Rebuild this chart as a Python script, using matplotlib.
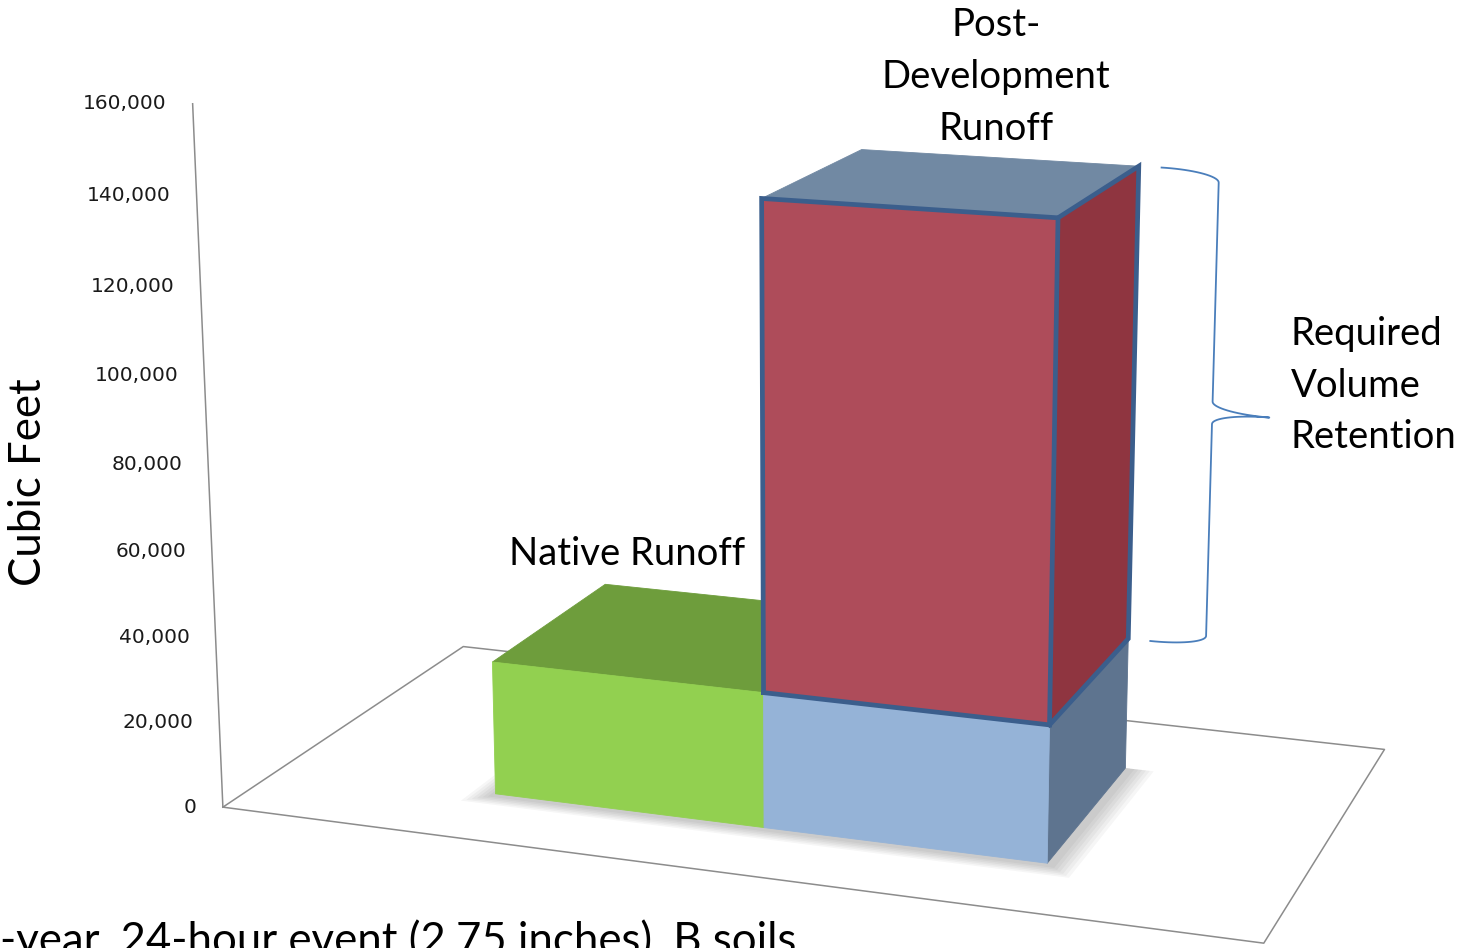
import numpy as np
import matplotlib
matplotlib.use("Agg")
import matplotlib.pyplot as plt
from matplotlib.transforms import offset_copy
from mpl_toolkits.mplot3d import proj3d
from mpl_toolkits.mplot3d.art3d import Poly3DCollection

plt.rcParams["font.family"] = ["Lato", "DejaVu Sans"]

# Stacked runoff columns, cubic feet
categories = ["Native Runoff", "Post-Development Runoff"]
base_volume = [31500, 31500]       # runoff leaving the native site
retention_volume = [0, 110300]     # extra runoff that has to be retained
z_ticks = [0, 20000, 40000, 60000, 80000, 100000, 120000, 140000, 160000]
caption = "-year, 24-hour event (2.75 inches), B soils"

# face colours (front, side, top)
base_colors = [("#92d050", "#5e9b2e", "#6e9d3c"),
               ("#95b3d7", "#5e748f", "#7189a3")]
retention_colors = ("#ae4c5a", "#8f3540", "#7189a3")
outline_color = "#3b5e8c"
floor_color = "#8c8c8c"
brace_color = "#4a7ebb"

# box geometry in bar-width units
BAR_W = 1.0
SIDE_GAP = 0.83
FRONT_GAP = 0.44
BAR_D = 1.0
BACK_GAP = 0.51
Z_MAX = 160000
Z_SPAN = 2.448

floor_x = 2 * SIDE_GAP + len(categories) * BAR_W
floor_y = FRONT_GAP + BAR_D + BACK_GAP
y_front = FRONT_GAP
y_back = FRONT_GAP + BAR_D

W, H = 1465, 948
fig = plt.figure(figsize=(W / 100, H / 100), dpi=100)
fig.patch.set_facecolor("white")

# square 3d axes; the projected box centre sits at (cx, cy) pixels
side = 1355.0
cx, cy = 817, 442
k = 0.95 / 1.85
ax = fig.add_axes([(cx - k * side) / W, (H - cy - k * side) / H, side / W, side / H],
                  projection="3d")
ax.set_proj_type("persp", focal_length=0.494)
ax.view_init(elev=14.31, azim=-70.34, roll=0)
ax.set_box_aspect((floor_x, floor_y, Z_SPAN))
ax.set_xlim(0, floor_x)
ax.set_ylim(0, floor_y)
ax.set_zlim(0, Z_MAX)
ax.set_axis_off()
ax.computed_zorder = False


def box_faces(x0, x1, y0, y1, z0, z1):
    front = [(x0, y0, z0), (x1, y0, z0), (x1, y0, z1), (x0, y0, z1)]
    right = [(x1, y0, z0), (x1, y1, z0), (x1, y1, z1), (x1, y0, z1)]
    top = [(x0, y0, z1), (x1, y0, z1), (x1, y1, z1), (x0, y1, z1)]
    return [front, right, top]


def add_box(x0, z0, z1, colors, zorder):
    faces = box_faces(x0, x0 + BAR_W, y_front, y_back, z0, z1)
    pc = Poly3DCollection(faces, facecolors=colors, edgecolors=colors,
                          linewidths=0.6, zorder=zorder)
    ax.add_collection3d(pc, autolim=False)


def brace(x_end, width, z_lo, z_hi, curl):
    t = np.linspace(0, np.pi / 2, 20)
    spine = x_end + width
    zm = (z_lo + z_hi) / 2
    x1 = x_end + width * np.sin(t)
    z1 = z_hi - curl * (1 - np.cos(t))
    x2 = spine + width * (1 - np.cos(t))
    z2 = zm + curl * (1 - np.sin(t))
    x3 = x2[::-1]
    z3 = 2 * zm - z2[::-1]
    x4 = x1[::-1]
    z4 = z_lo + curl * (1 - np.cos(t[::-1]))
    return np.concatenate([x1, x2, x3, x4]), np.concatenate([z1, z2, z3, z4])


# floor outline and value axis
fx = [0, floor_x, floor_x, 0, 0]
fy = [0, 0, floor_y, floor_y, 0]
ax.plot(fx, fy, [0] * 5, color=floor_color, lw=1.1, zorder=1)
ax.plot([0, 0], [0, 0], [0, Z_MAX], color=floor_color, lw=1.1, zorder=1)

# tick labels: project the axis points, then shift left of the axis line
tick_trans = offset_copy(ax.transData, fig=fig, x=-26, y=0, units="dots")
tx, ty, _ = proj3d.proj_transform(np.zeros(len(z_ticks)), np.zeros(len(z_ticks)),
                                  np.array(z_ticks, dtype=float), ax.get_proj())
for v, x2, y2 in zip(z_ticks, tx, ty):
    ax.text2D(x2, y2, f"{v:,}", transform=tick_trans, ha="right", va="center",
              fontsize=14.5, family="DejaVu Sans", color="#1a1a1a")

# soft shadow under the columns
sx0 = SIDE_GAP
sx1 = SIDE_GAP + len(categories) * BAR_W
for i in range(1, 7):
    e = 0.014 * i
    quad = [[(sx0 - e, y_front - e - 0.02, 0), (sx1 + e + 0.02, y_front - e - 0.02, 0),
             (sx1 + e + 0.02, y_back, 0), (sx0 - e, y_back, 0)]]
    ax.add_collection3d(Poly3DCollection(quad, facecolors="black", edgecolors="none",
                                         alpha=0.035, zorder=2), autolim=False)

# columns
for i in range(len(categories)):
    x0 = SIDE_GAP + i * BAR_W
    add_box(x0, 0, base_volume[i], base_colors[i], 3 + 2 * i)
    if retention_volume[i] > 0:
        z0 = base_volume[i]
        z1 = base_volume[i] + retention_volume[i]
        add_box(x0, z0, z1, retention_colors, 4 + 2 * i)
        x1 = x0 + BAR_W
        ax.plot([x0, x1, x1, x0, x0], [y_front] * 5, [z0, z0, z1, z1, z0],
                color=outline_color, lw=3.4, zorder=10, solid_joinstyle="miter")
        ax.plot([x1, x1, x1, x1], [y_front, y_back, y_back, y_front], [z1, z1, z0, z0],
                color=outline_color, lw=3.4, zorder=10, solid_joinstyle="miter")
        bx, bz = brace(x1 + 0.08, 0.2, z0, z1, 2600)
        ax.plot(bx, [y_back] * len(bx), bz, color=brace_color, lw=1.3, zorder=10)


def px(x, y):
    return x / W, 1 - y / H


big = 27.5
fig.text(*px(627.5, 565), "Native Runoff", ha="center", va="baseline", fontsize=big)
for line, base in zip(["Post-", "Development", "Runoff"], [36, 88, 140]):
    fig.text(*px(996, base), line, ha="center", va="baseline", fontsize=big)
for line, base in zip(["Required", "Volume", "Retention"], [345, 397, 448]):
    fig.text(*px(1291, base), line, ha="left", va="baseline", fontsize=big)
fig.text(*px(29, 482), "Cubic Feet", rotation=90, ha="center", va="center", fontsize=31.5)
fig.text(*px(0, 954), caption, ha="left", va="baseline", fontsize=31.5)

fig.savefig("out.png", dpi=100, facecolor="white")
